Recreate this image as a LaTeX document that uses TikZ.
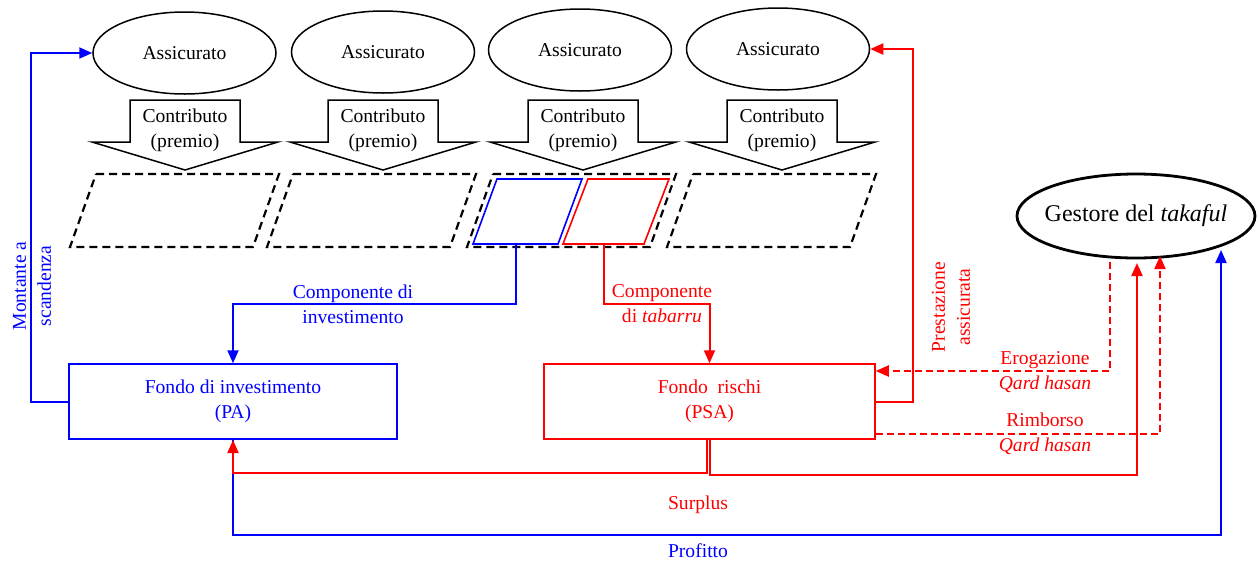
\documentclass[tikz,border=0pt]{standalone}
\usepackage{fontspec}
\setmainfont{Liberation Serif}
\usetikzlibrary{shapes.geometric,arrows.meta}
\begin{document}
\begin{tikzpicture}[x=1pt,y=-1pt,
  font=\fontsize{19.6}{25}\selectfont,
  conn/.style={line width=2pt},
  arr/.style={conn,-{Triangle[length=13pt,width=11pt]}},
  dsh/.style={dash pattern=on 7pt off 4pt},
  insured/.style={ellipse,draw,line width=1.5pt,minimum width=183pt,minimum height=82pt,inner sep=0pt},
  fund/.style={draw,line width=1.5pt,align=center,inner sep=0pt},
  lbl/.style={align=center,inner sep=0pt},
  contrib/.pic={
    \draw[line width=1.5pt,fill=white] (-55,0) -- (55,0) -- (55,42) -- (93,42) -- (0,70) -- (-93,42) -- (-55,42) -- cycle;
    \node[lbl] at (0,30) {Contributo\\(premio)};
  },
  slot/.pic={
    \draw[line width=2.2pt,dash pattern=on 8pt off 5pt] (0,0) -- (183,0) -- (157,73) -- (-26,73) -- cycle;
  }
]
\useasboundingbox (0,0) rectangle (1259,563);

% insured
\node[insured] (e1) at (184.5,53) {Assicurato};
\node[insured] (e2) at (383,52) {Assicurato};
\node[insured] (e3) at (580,50) {Assicurato};
\node[insured] (e4) at (778,49) {Assicurato};

% contributions
\pic at (185,100) {contrib};
\pic at (383,100) {contrib};
\pic at (583,100) {contrib};
\pic at (782,100) {contrib};

% slots
\pic at (96,174) {slot};
\pic at (293,174) {slot};
\pic at (493,174) {slot};
\pic at (693,174) {slot};

\draw[blue,line width=1.6pt] (497,179) -- (582,179) -- (558,244) -- (473,244) -- cycle;
\draw[red,line width=1.6pt] (588,179) -- (669,179) -- (644,244) -- (563,244) -- cycle;
\coordinate (bpa) at (516,244);
\coordinate (rpa) at (604,244);

% funds
\node[fund,blue,minimum width=328pt,minimum height=75pt] (PA) at (233,401.5) {Fondo di investimento\\(PA)};
\node[fund,red,minimum width=331pt,minimum height=75pt] (PSA) at (709.5,401.5) {Fondo\ \ rischi\\(PSA)};

% manager
\node[ellipse,draw,line width=2.8pt,minimum width=238pt,minimum height=84pt,inner sep=0pt] (G) at (1136,216) {};
\node[lbl,font=\fontsize{24}{28}\selectfont] (Gt) at (G.center) {Gestore del \textit{takaful}};
\coordinate (gEro) at (1110,262);
\coordinate (gSur) at (1137,263);
\coordinate (gRim) at (1160,256);
\coordinate (gPro) at (1221,250);

% investment component
\draw[blue,arr] (bpa) -- (516,304) -| (PA.north);
\node[lbl,blue] at (353,304) {Componente di\\investimento};

% tabarru component
\draw[red,arr] (rpa) -- (604,304) -| (PSA.north);
\node[lbl,red] at (662,304) {Componente\\di \textit{tabarru}};

% montante a scadenza
\draw[blue,arr] (PA.west) -- (31,401.5) |- (e1.west);
\node[lbl,blue,rotate=90] at (32,286) {Montante a\\scandenza};

% prestazione
\draw[red,arr] (PSA.east) -- (913,401.5) |- (e4.east);
\node[lbl,red,rotate=90] at (951,307) {Prestazione\\assicurata};

% erogazione
\draw[red,arr,dsh] (gEro) -- (1110,371) -- (PSA.east |- 0,371);
\node[lbl,red] at (1045,372) {Erogazione\\\textit{Qard hasan}};

% rimborso
\draw[red,arr,dsh] (PSA.east |- 0,434) -- (1160,434) -- (gRim);
\node[lbl,red] at (1045,434) {Rimborso\\\textit{Qard hasan}};

% profitto
\draw[blue,arr] (PA.south) -- (233,535) -- (1221,535) -- (gPro);
\node[lbl,blue] at (698,551) {Profitto};

% surplus
\draw[red,arr] (PSA.south -| 707,0) -- (707,473) -- (233,473) -- (233,440);
\draw[red,arr] (PSA.south -| 709.5,0) -- (709.5,475) -- (1137,475) -- (gSur);
\node[lbl,red] at (698,505) {Surplus};
\end{tikzpicture}
\end{document}
